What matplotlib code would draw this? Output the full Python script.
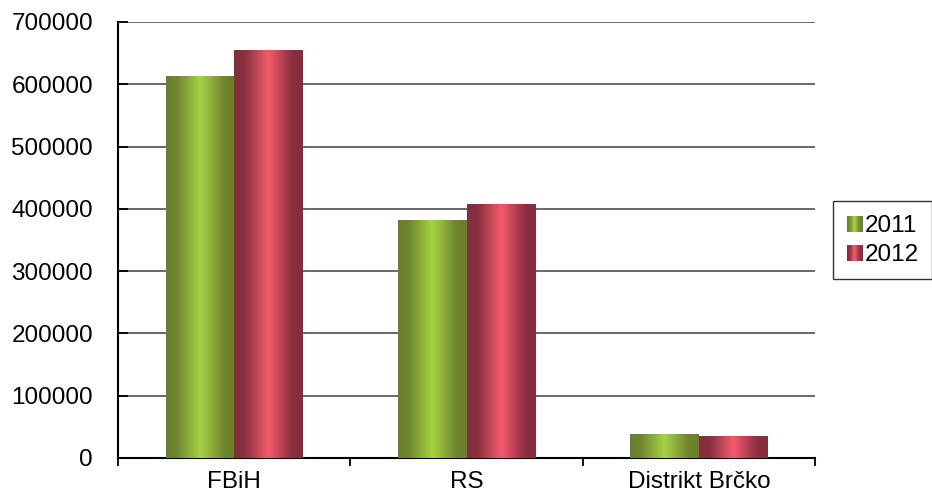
import matplotlib
matplotlib.use("Agg")
import matplotlib.pyplot as plt
import numpy as np
from matplotlib.colors import LinearSegmentedColormap
from matplotlib.patches import Rectangle
from matplotlib.legend_handler import HandlerBase

plt.rcParams['font.family'] = ['Liberation Sans', 'DejaVu Sans']

regions = ["FBiH", "RS", "Distrikt Brčko"]
years = ["2011", "2012"]
v2011 = [613000, 382000, 38500]
v2012 = [655000, 408000, 35000]

green = LinearSegmentedColormap.from_list(
    "g", [(0, "#6a7f2c"), (0.15, "#6f852e"), (0.5, "#a6d444"), (0.85, "#6f852e"), (1, "#6a7f2c")])
red = LinearSegmentedColormap.from_list(
    "r", [(0, "#842e3d"), (0.15, "#8a3040"), (0.5, "#f45a6c"), (0.85, "#8a3040"), (1, "#842e3d")])

grad = np.linspace(0, 1, 64)[None, :]


class GradHandler(HandlerBase):
    def __init__(self, cmap):
        super().__init__()
        self.cmap = cmap

    def create_artists(self, legend, orig, xd, yd, w, h, fontsize, trans):
        n = 12
        s = min(w, h)
        x0 = xd + (w - s) / 2
        arts = []
        for i in range(n):
            r = Rectangle((x0 + s * i / n, yd), s / n + 0.3, s,
                          facecolor=self.cmap((i + 0.5) / n), edgecolor='none',
                          transform=trans)
            arts.append(r)
        return arts


fig = plt.figure(figsize=(9.32, 5.01), dpi=100)
ax = fig.add_axes([118 / 932, 1 - 458 / 501, (815 - 118) / 932, (458 - 22) / 501])

x = np.arange(len(regions))
w = 0.295

bars1 = ax.bar(x - w / 2, v2011, w, color='none', edgecolor='none', zorder=3)
bars2 = ax.bar(x + w / 2, v2012, w, color='none', edgecolor='none', zorder=3)
for bars, cmap in ((bars1, green), (bars2, red)):
    for b in bars:
        x0, y0 = b.get_x(), b.get_y()
        im = ax.imshow(grad, cmap=cmap, aspect='auto', interpolation='bilinear',
                       extent=[x0, x0 + b.get_width(), y0, y0 + b.get_height()],
                       zorder=3)
        im.set_clip_path(b)
ax.set_xlim(-0.5, len(regions) - 0.5)
ax.set_ylim(0, 700000)

ax.set_yticks(np.arange(0, 700001, 100000))
ax.set_yticklabels([str(v) for v in range(0, 700001, 100000)])
ax.grid(axis='y', color='#404040', linewidth=1.1, zorder=0)
ax.set_axisbelow(True)

ax.set_xticks(x)
ax.set_xticklabels(regions)
ax.set_xticks(np.arange(-0.5, len(regions)), minor=True)
ax.tick_params(axis='x', which='major', length=0, labelsize=17.5, pad=9)
ax.tick_params(axis='x', which='minor', length=6, width=1.3, direction='out', color='black')
ax.tick_params(axis='y', length=7, width=1.3, direction='in', labelsize=17.5, pad=18)

for s in ('top', 'right'):
    ax.spines[s].set_visible(False)
ax.spines['left'].set_linewidth(1.5)
ax.spines['bottom'].set_linewidth(1.5)

h1 = Rectangle((0, 0), 1, 1)
h2 = Rectangle((0, 0), 1, 1)
leg = fig.legend([h1, h2], years, loc='upper left', bbox_to_anchor=(0.894, 0.598),
                 handler_map={h1: GradHandler(green), h2: GradHandler(red)},
                 fontsize=17.5, frameon=True, fancybox=False, handlelength=0.65,
                 handletextpad=0.1, borderpad=0.55, labelspacing=0.28, borderaxespad=0)
leg.get_frame().set_edgecolor('black')
leg.get_frame().set_linewidth(1.0)

fig.savefig("out.png", dpi=100)
